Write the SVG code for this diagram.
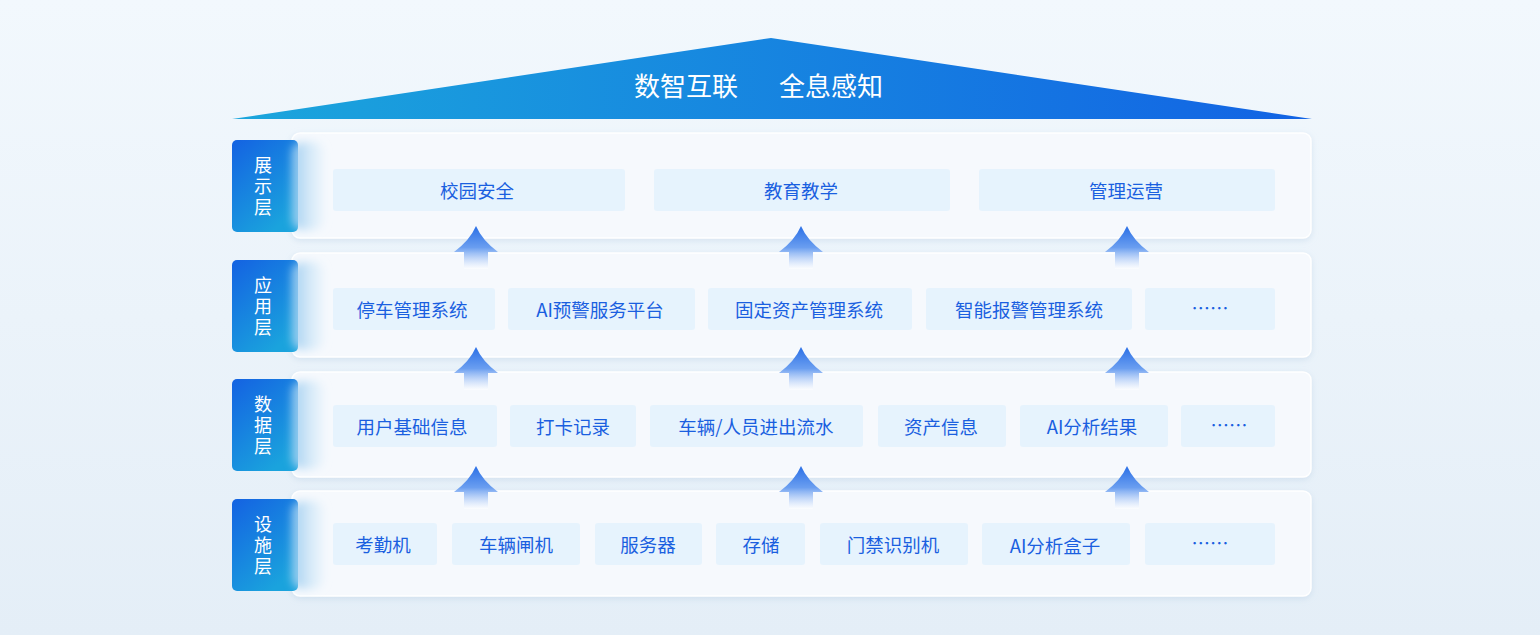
<svg xmlns="http://www.w3.org/2000/svg" width="1540" height="635" viewBox="0 0 1540 635">
<defs>
<linearGradient id="bg" x1="0" y1="0" x2="0" y2="1"><stop offset="0" stop-color="#f2f8fd"/><stop offset="1" stop-color="#e4eef7"/></linearGradient>
<linearGradient id="roof" x1="0" y1="0" x2="1" y2="0"><stop offset="0" stop-color="#1ba6dc"/><stop offset="1" stop-color="#1263e4"/></linearGradient>
<linearGradient id="lab" x1="0" y1="0" x2="0.6" y2="1"><stop offset="0" stop-color="#1462e2"/><stop offset="1" stop-color="#1aa3dd"/></linearGradient>
<linearGradient id="arr" x1="0" y1="0" x2="0" y2="1"><stop offset="0" stop-color="#2a6fe6"/><stop offset="0.5" stop-color="#6a9ef0"/><stop offset="1" stop-color="#ffffff" stop-opacity="0.6"/></linearGradient>
<linearGradient id="glow" x1="0" y1="0" x2="1" y2="0"><stop offset="0" stop-color="#9fcdf0"/><stop offset="1" stop-color="#cfe8f8" stop-opacity="0.2"/></linearGradient>
<filter id="bl" x="-50%" y="-20%" width="200%" height="140%"><feGaussianBlur stdDeviation="4"/></filter>
<filter id="sh" x="-5%" y="-20%" width="110%" height="140%"><feDropShadow dx="0" dy="2" stdDeviation="3" flood-color="#a8c4de" flood-opacity="0.35"/></filter>
</defs>
<style>
.panel{fill:#f6f9fd;stroke:#ffffff;stroke-width:1.5}
.box{fill:#e6f3fd}
.t{font-family:"Noto Sans CJK SC","Noto Sans",sans-serif;font-size:18.5px;fill:#1a5fe0;text-anchor:middle;dominant-baseline:central}
.lt{font-family:"Noto Sans CJK SC",sans-serif;font-size:18px;fill:#fff;text-anchor:middle}
.ar{fill:url(#arr)}
</style>
<rect width="1540" height="635" fill="url(#bg)"/>
<g id="roof"><polygon points="232,119 771,38 1312,119" fill="url(#roof)"/>
<text x="686" y="96" class="lt" style="font-size:26px">数智互联</text><text x="831" y="96" class="lt" style="font-size:26px">全息感知</text></g>
<g id="layer1"><rect x="292" y="133" width="1019" height="105" rx="8" class="panel" filter="url(#sh)"/>
<rect x="232" y="140" width="66" height="92" rx="5" fill="url(#lab)"/><rect x="292" y="142" width="32" height="88" rx="10" fill="url(#glow)" filter="url(#bl)"/>
<text x="263" y="172" class="lt">展</text><text x="263" y="193" class="lt">示</text><text x="263" y="214" class="lt">层</text>
<rect x="333" y="169" width="292" height="42" rx="3" class="box"/><text x="477" y="190" class="t">校园安全</text>
<rect x="654" y="169" width="296" height="42" rx="3" class="box"/><text x="801" y="190" class="t">教育教学</text>
<rect x="979" y="169" width="296" height="42" rx="3" class="box"/><text x="1126" y="190" class="t">管理运营</text></g>
<g id="layer2"><rect x="292" y="253" width="1019" height="104" rx="8" class="panel" filter="url(#sh)"/>
<rect x="232" y="260" width="66" height="92" rx="5" fill="url(#lab)"/><rect x="292" y="262" width="32" height="88" rx="10" fill="url(#glow)" filter="url(#bl)"/>
<text x="263" y="292" class="lt">应</text><text x="263" y="313" class="lt">用</text><text x="263" y="334" class="lt">层</text>
<rect x="333" y="288" width="162" height="42" rx="3" class="box"/><text x="412" y="309" class="t">停车管理系统</text>
<rect x="508" y="288" width="187" height="42" rx="3" class="box"/><text x="600" y="309" class="t">AI预警服务平台</text>
<rect x="708" y="288" width="204" height="42" rx="3" class="box"/><text x="809" y="309" class="t">固定资产管理系统</text>
<rect x="926" y="288" width="206" height="42" rx="3" class="box"/><text x="1029" y="309" class="t">智能报警管理系统</text>
<rect x="1145" y="288" width="130" height="42" rx="3" class="box"/><text x="1210" y="307" class="t">……</text></g>
<g id="layer3"><rect x="292" y="372" width="1019" height="105" rx="8" class="panel" filter="url(#sh)"/>
<rect x="232" y="379" width="66" height="92" rx="5" fill="url(#lab)"/><rect x="292" y="381" width="32" height="88" rx="10" fill="url(#glow)" filter="url(#bl)"/>
<text x="263" y="411" class="lt">数</text><text x="263" y="432" class="lt">据</text><text x="263" y="453" class="lt">层</text>
<rect x="333" y="405" width="164" height="42" rx="3" class="box"/><text x="412" y="426" class="t">用户基础信息</text>
<rect x="510" y="405" width="126" height="42" rx="3" class="box"/><text x="573" y="426" class="t">打卡记录</text>
<rect x="650" y="405" width="213" height="42" rx="3" class="box"/><text x="756" y="426" class="t">车辆/人员进出流水</text>
<rect x="878" y="405" width="128" height="42" rx="3" class="box"/><text x="941" y="426" class="t">资产信息</text>
<rect x="1020" y="405" width="148" height="42" rx="3" class="box"/><text x="1092" y="426" class="t">AI分析结果</text>
<rect x="1181" y="405" width="94" height="42" rx="3" class="box"/><text x="1229" y="424" class="t">……</text></g>
<g id="layer4"><rect x="292" y="491" width="1019" height="105" rx="8" class="panel" filter="url(#sh)"/>
<rect x="232" y="499" width="66" height="92" rx="5" fill="url(#lab)"/><rect x="292" y="501" width="32" height="88" rx="10" fill="url(#glow)" filter="url(#bl)"/>
<text x="263" y="531" class="lt">设</text><text x="263" y="552" class="lt">施</text><text x="263" y="573" class="lt">层</text>
<rect x="333" y="523" width="104" height="42" rx="3" class="box"/><text x="383" y="544" class="t">考勤机</text>
<rect x="452" y="523" width="128" height="42" rx="3" class="box"/><text x="516" y="544" class="t">车辆闸机</text>
<rect x="595" y="523" width="107" height="42" rx="3" class="box"/><text x="648" y="544" class="t">服务器</text>
<rect x="716" y="523" width="89" height="42" rx="3" class="box"/><text x="761" y="544" class="t">存储</text>
<rect x="820" y="523" width="148" height="42" rx="3" class="box"/><text x="893" y="544" class="t">门禁识别机</text>
<rect x="982" y="523" width="148" height="42" rx="3" class="box"/><text x="1055" y="545" class="t">AI分析盒子</text>
<rect x="1145" y="523" width="130" height="42" rx="3" class="box"/><text x="1210" y="542" class="t">……</text></g>
<g id="connectors">
<path d="M0,0 Q6,14 22,26 L12,26 L12,43 L-12,43 L-12,26 L-22,26 Q-6,14 0,0Z" class="ar" transform="translate(476,226)"/>
<path d="M0,0 Q6,14 22,26 L12,26 L12,43 L-12,43 L-12,26 L-22,26 Q-6,14 0,0Z" class="ar" transform="translate(801,226)"/>
<path d="M0,0 Q6,14 22,26 L12,26 L12,43 L-12,43 L-12,26 L-22,26 Q-6,14 0,0Z" class="ar" transform="translate(1127,226)"/>
<path d="M0,0 Q6,14 22,26 L12,26 L12,43 L-12,43 L-12,26 L-22,26 Q-6,14 0,0Z" class="ar" transform="translate(476,347)"/>
<path d="M0,0 Q6,14 22,26 L12,26 L12,43 L-12,43 L-12,26 L-22,26 Q-6,14 0,0Z" class="ar" transform="translate(801,347)"/>
<path d="M0,0 Q6,14 22,26 L12,26 L12,43 L-12,43 L-12,26 L-22,26 Q-6,14 0,0Z" class="ar" transform="translate(1127,347)"/>
<path d="M0,0 Q6,14 22,26 L12,26 L12,43 L-12,43 L-12,26 L-22,26 Q-6,14 0,0Z" class="ar" transform="translate(476,466)"/>
<path d="M0,0 Q6,14 22,26 L12,26 L12,43 L-12,43 L-12,26 L-22,26 Q-6,14 0,0Z" class="ar" transform="translate(801,466)"/>
<path d="M0,0 Q6,14 22,26 L12,26 L12,43 L-12,43 L-12,26 L-22,26 Q-6,14 0,0Z" class="ar" transform="translate(1127,466)"/>
</g>
</svg>
